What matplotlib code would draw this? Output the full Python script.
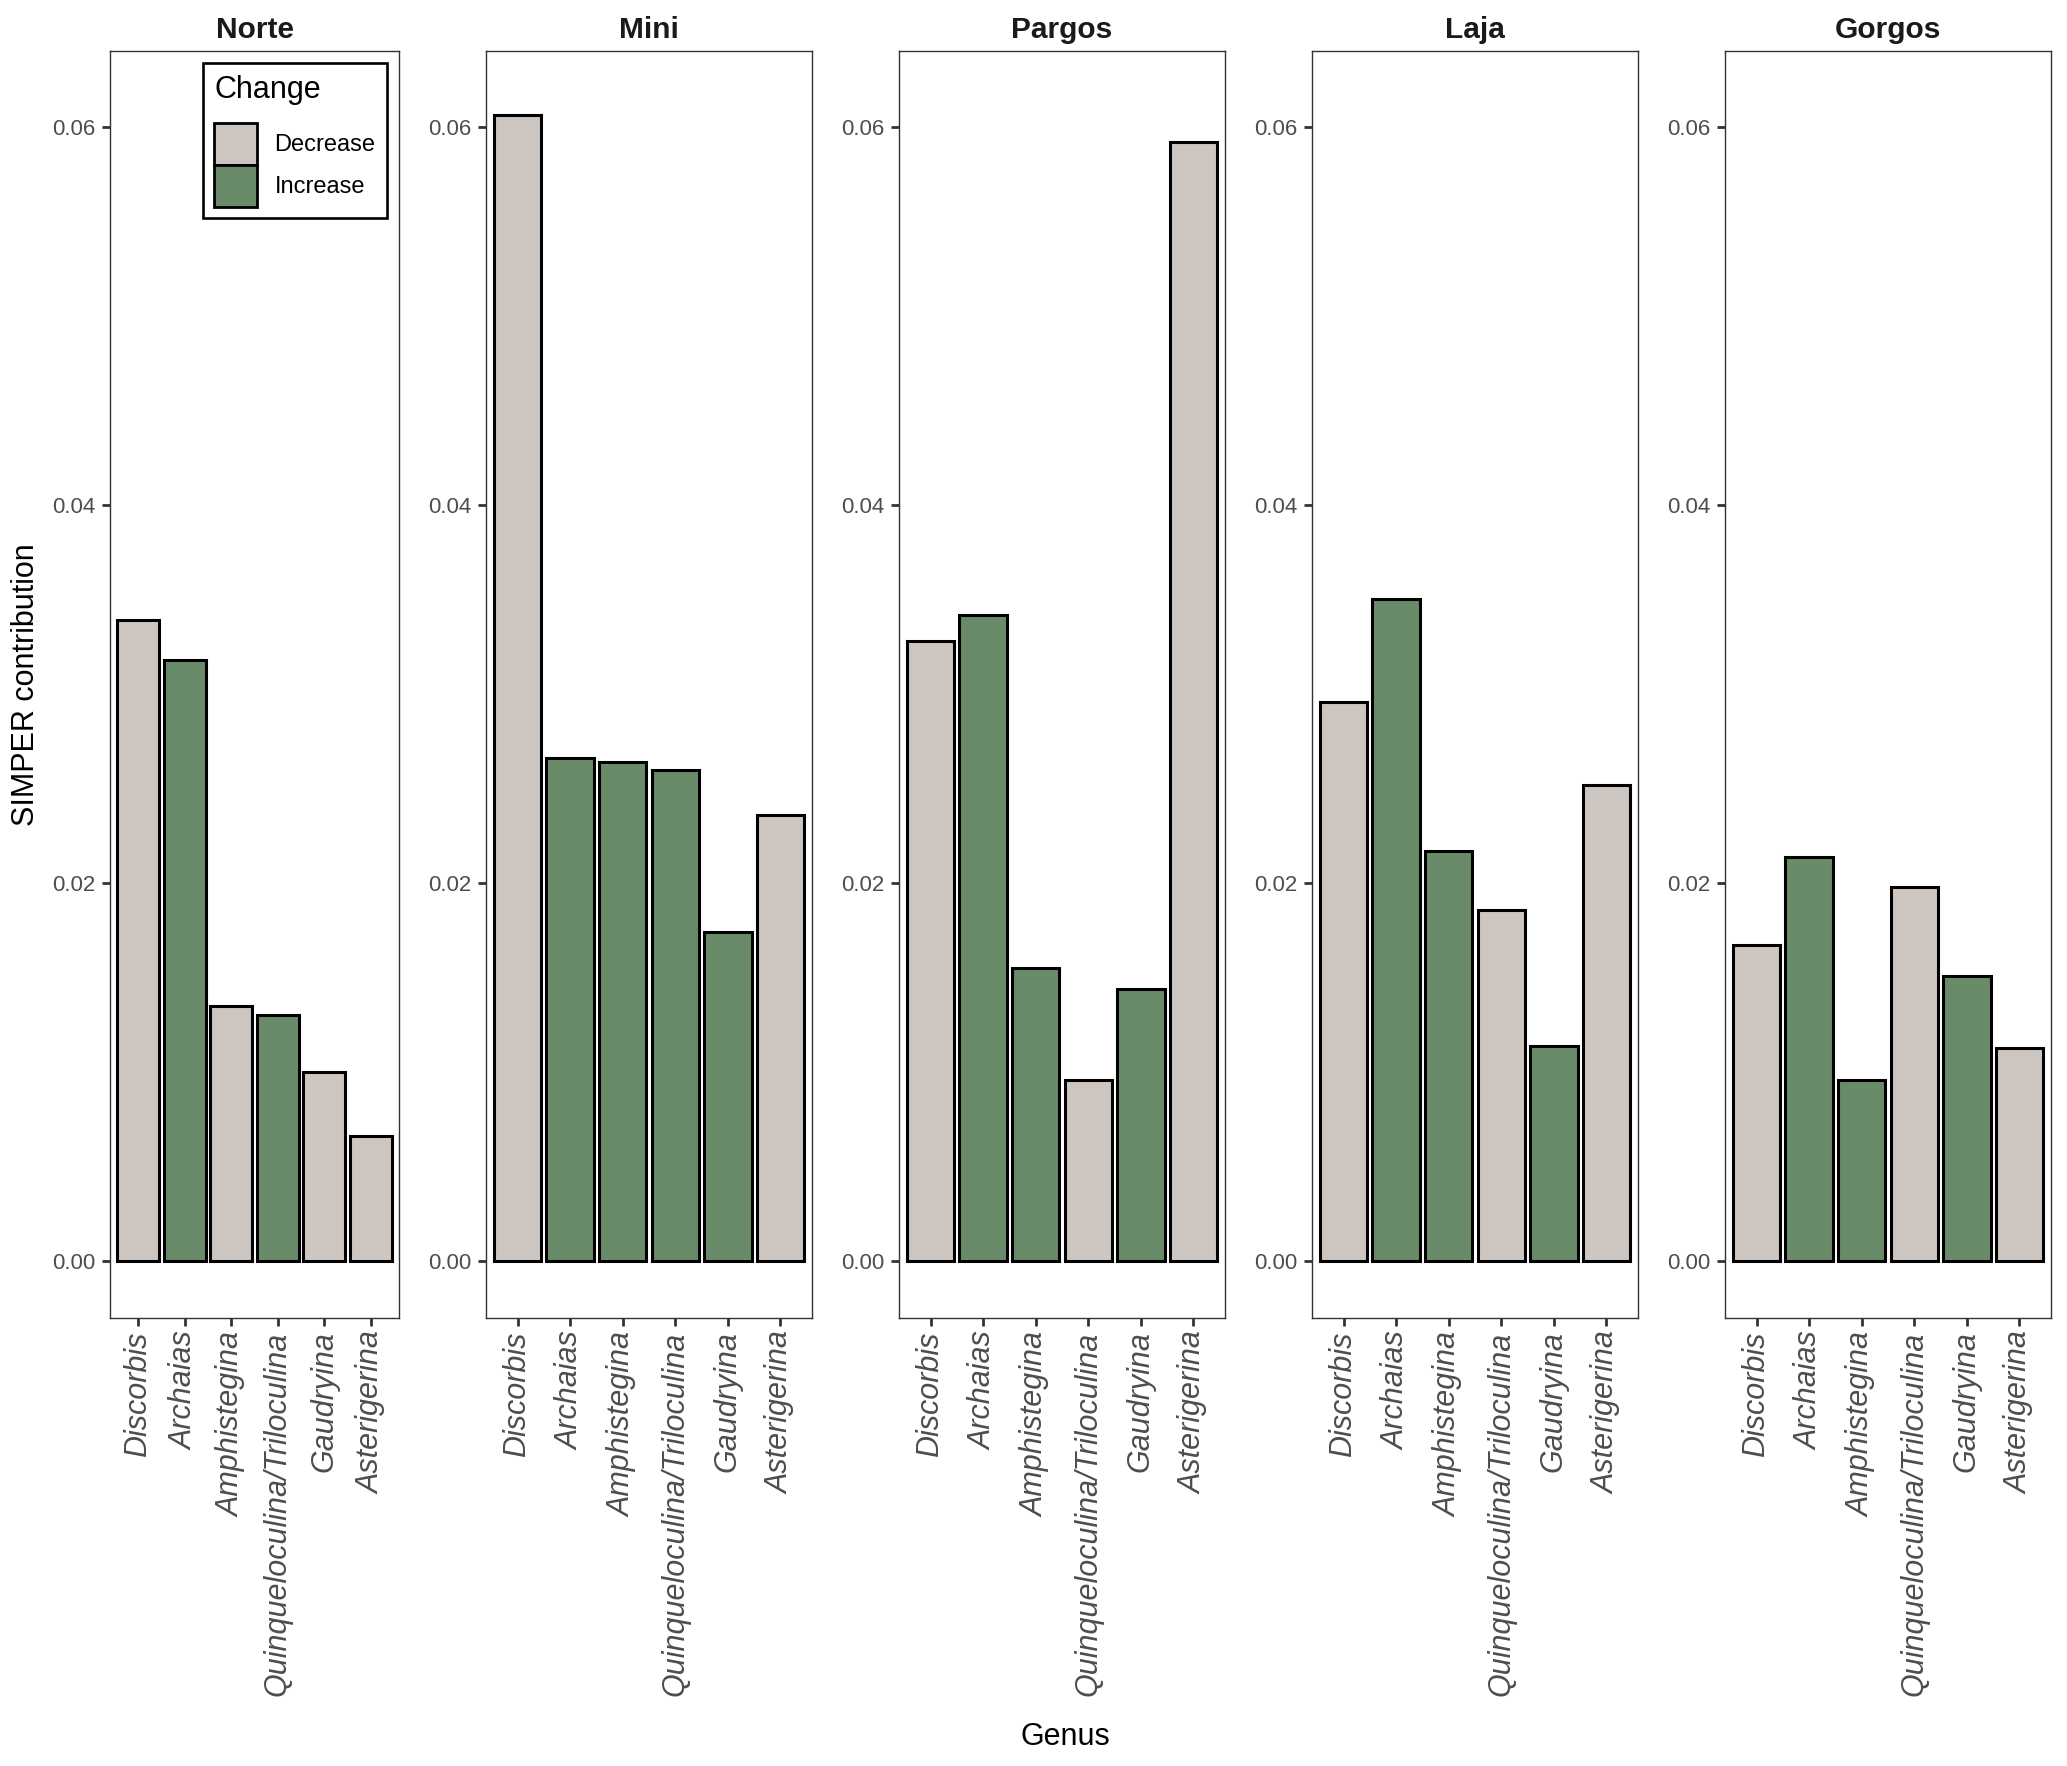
import matplotlib
matplotlib.use('Agg')
import matplotlib.pyplot as plt
from matplotlib.patches import Patch

plt.rcParams['font.family'] = ['Liberation Sans', 'DejaVu Sans']

sites = ['Norte', 'Mini', 'Pargos', 'Laja', 'Gorgos']
genera = ['Discorbis', 'Archaias', 'Amphistegina',
          'Quinqueloculina/Triloculina', 'Gaudryina', 'Asterigerina']

# SIMPER contribution per genus, same genus order in every site
norte = [0.0339, 0.0318, 0.0135, 0.0130, 0.0100, 0.0066]
mini = [0.0606, 0.0266, 0.0264, 0.0260, 0.0174, 0.0236]
pargos = [0.0328, 0.0342, 0.0155, 0.0096, 0.0144, 0.0592]
laja = [0.0296, 0.0350, 0.0217, 0.0186, 0.0114, 0.0252]
gorgos = [0.0167, 0.0214, 0.0096, 0.0198, 0.0151, 0.0113]

norte_change = ['Decrease', 'Increase', 'Decrease', 'Increase', 'Decrease', 'Decrease']
mini_change = ['Decrease', 'Increase', 'Increase', 'Increase', 'Increase', 'Decrease']
pargos_change = ['Decrease', 'Increase', 'Increase', 'Decrease', 'Increase', 'Decrease']
laja_change = ['Decrease', 'Increase', 'Increase', 'Decrease', 'Increase', 'Decrease']
gorgos_change = ['Decrease', 'Increase', 'Increase', 'Decrease', 'Increase', 'Decrease']

values = [norte, mini, pargos, laja, gorgos]
changes = [norte_change, mini_change, pargos_change, laja_change, gorgos_change]
colors = {'Decrease': '#CDC5BF', 'Increase': '#698B69'}

W, H = 2067, 1766
fig = plt.figure(figsize=(W / 100, H / 100), dpi=100)

# panel extents in pixels (left, right)
panels = [(110, 399), (486, 812), (899, 1225), (1312, 1638), (1725, 2051)]
top, bottom = 51, 1318

axes = []
for (l, r), site, vals, chg in zip(panels, sites, values, changes):
    ax = fig.add_axes([l / W, 1 - bottom / H, (r - l) / W, (bottom - top) / H])
    x = list(range(len(genera)))
    ax.bar(x, vals, width=0.9, color=[colors[c] for c in chg],
           edgecolor='black', linewidth=2.2, zorder=2)
    ax.set_xlim(-0.6, len(genera) - 0.4)
    ax.set_ylim(-0.003, 0.064)
    ax.set_yticks([0.0, 0.02, 0.04, 0.06])
    ax.set_yticklabels(['0.00', '0.02', '0.04', '0.06'])
    ax.set_xticks(x)
    ax.set_xticklabels(genera, rotation=90, style='italic', fontsize=22,
                       color='#4D4D4D')
    ax.tick_params(axis='y', labelsize=16, labelcolor='#4D4D4D',
                   length=5.8, width=2.0, color='#333333', pad=4.7)
    ax.tick_params(axis='x', length=5.8, width=2.0, color='#333333', pad=4)
    for s in ax.spines.values():
        s.set_color('#333333')
        s.set_linewidth(1.0)
    ax.set_title(site, fontsize=21.5, fontweight='bold', color='#1A1A1A', pad=9)
    axes.append(ax)

handles = [Patch(facecolor=colors['Decrease'], edgecolor='black', linewidth=2.0, label='Decrease'),
           Patch(facecolor=colors['Increase'], edgecolor='black', linewidth=2.0, label='Increase')]
leg = axes[0].legend(handles=handles, title='Change', loc='upper right',
                     fontsize=17, title_fontsize=22, alignment='left',
                     handlelength=1.82, handleheight=2.36, labelspacing=0,
                     handletextpad=0.72, borderpad=0.5, borderaxespad=0.5,
                     fancybox=False, framealpha=1, edgecolor='black')
leg.get_frame().set_linewidth(1.9)
leg._legend_box.sep = 13

fig.text(26 / W, 1 - 685 / H, 'SIMPER contribution', rotation=90,
         fontsize=22, ha='center', va='center')
fig.text(1065 / W, 1 - 1737 / H, 'Genus', fontsize=22, ha='center', va='center')

fig.savefig('out.png', dpi=100)
